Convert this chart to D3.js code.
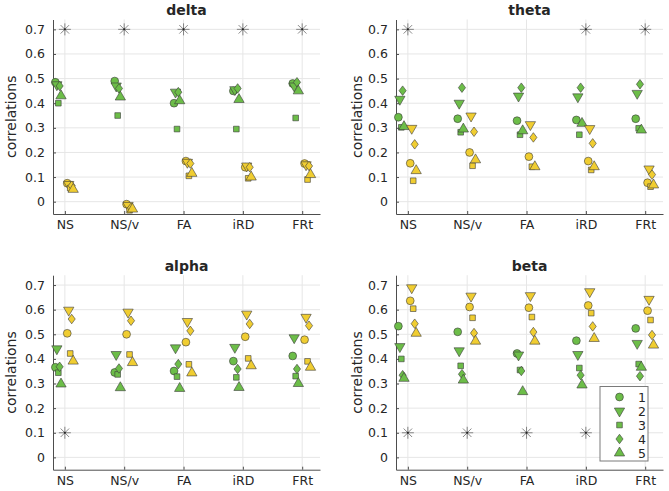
<!DOCTYPE html>
<html>
<head>
<meta charset="utf-8">
<script src="https://d3js.org/d3.v7.min.js"></script>
<style>
  body { margin: 0; background: #fff; }
  svg text { font-family: "DejaVu Sans", sans-serif; fill: #262626; }
</style>
</head>
<body>
<div id="chart"></div>
<script>
// categories and labels
const categories = ["NS", "NS/v", "FA", "iRD", "FRt"];
const legendLabels = ["1", "2", "3", "4", "5"];
const yTicks = [0, 0.1, 0.2, 0.3, 0.4, 0.5, 0.6, 0.7];

// values: one row per category, columns = marker 1..5
const delta_green = [
  [0.485, 0.475, 0.40, 0.47, 0.43],
  [0.49, 0.47, 0.35, 0.46, 0.425],
  [0.40, 0.445, 0.295, 0.445, 0.41],
  [0.45, 0.455, 0.295, 0.46, 0.415],
  [0.48, 0.47, 0.34, 0.485, 0.45]];
const delta_yellow = [
  [0.075, 0.07, 0.055, 0.065, 0.05],
  [-0.01, -0.015, -0.035, -0.025, -0.03],
  [0.165, 0.16, 0.105, 0.155, 0.115],
  [0.14, 0.145, 0.095, 0.14, 0.10],
  [0.155, 0.15, 0.09, 0.145, 0.11]];
const delta_stars = [0.7, 0.7, 0.7, 0.7, 0.7];

const theta_green = [
  [0.343, 0.416, 0.302, 0.451, 0.305],
  [0.337, 0.40, 0.282, 0.463, 0.295],
  [0.329, 0.429, 0.272, 0.463, 0.288],
  [0.332, 0.426, 0.272, 0.463, 0.318],
  [0.337, 0.44, 0.298, 0.477, 0.291]];
const theta_yellow = [
  [0.156, 0.298, 0.085, 0.233, 0.126],
  [0.20, 0.348, 0.146, 0.284, 0.17],
  [0.183, 0.313, 0.142, 0.261, 0.142],
  [0.165, 0.297, 0.129, 0.237, 0.142],
  [0.077, 0.133, 0.061, 0.11, 0.068]];
const theta_stars = [0.7, null, null, 0.7, 0.7];

const alpha_green = [
  [0.366, 0.441, 0.344, 0.368, 0.298],
  [0.345, 0.418, 0.337, 0.361, 0.283],
  [0.351, 0.445, 0.328, 0.379, 0.28],
  [0.391, 0.447, 0.325, 0.359, 0.284],
  [0.412, 0.486, 0.33, 0.359, 0.30]];
const alpha_yellow = [
  [0.504, 0.598, 0.422, 0.562, 0.391],
  [0.50, 0.59, 0.418, 0.555, 0.385],
  [0.468, 0.552, 0.378, 0.514, 0.343],
  [0.49, 0.582, 0.402, 0.542, 0.372],
  [0.478, 0.569, 0.39, 0.535, 0.366]];
const alpha_stars = [0.1, null, null, null, null];

const beta_green = [
  [0.533, 0.45, 0.40, 0.334, 0.321],
  [0.51, 0.433, 0.372, 0.338, 0.314],
  [0.422, 0.416, 0.355, 0.351, 0.267],
  [0.474, 0.418, 0.363, 0.334, 0.294],
  [0.524, 0.463, 0.379, 0.33, 0.366]];
const beta_yellow = [
  [0.636, 0.689, 0.604, 0.543, 0.504],
  [0.611, 0.655, 0.567, 0.505, 0.472],
  [0.608, 0.657, 0.57, 0.509, 0.472],
  [0.617, 0.673, 0.586, 0.532, 0.483],
  [0.596, 0.642, 0.558, 0.497, 0.456]];
const beta_stars = [0.1, 0.1, 0.1, 0.1, null];

// styling / layout
const GREEN = "#6cbd48", YELLOW = "#f0cd31", EDGE = "#3b3b3b";
const greenOffset = [-0.16, -0.135, -0.11, -0.088, -0.065];
const yellowOffset = [0.04, 0.065, 0.09, 0.115, 0.14];
const W = 669, H = 491;

const panels = [
  {title: "delta", green: delta_green, yellow: delta_yellow, stars: delta_stars, left: 53, top: 19.5, labelX: 16},
  {title: "theta", green: theta_green, yellow: theta_yellow, stars: theta_stars, left: 396, top: 19.5, labelX: 362},
  {title: "alpha", green: alpha_green, yellow: alpha_yellow, stars: alpha_stars, left: 53, top: 275.2, labelX: 16},
  {title: "beta", green: beta_green, yellow: beta_yellow, stars: beta_stars, left: 396, top: 275.2, labelX: 362, legend: true}
];
const pw = 267, ph = 194.5;

// wider diamond than d3's default, closer to the matlab one
const wideDiamond = {
  draw: function(ctx, size) {
    const h = Math.sqrt(size / 1.5);
    const w = h * 0.75;
    ctx.moveTo(0, -h); ctx.lineTo(w, 0); ctx.lineTo(0, h); ctx.lineTo(-w, 0); ctx.closePath();
  }
};

// marker shapes: 1 circle, 2 triangle down, 3 square, 4 diamond, 5 triangle up
const shapes = [
  {type: d3.symbolCircle, size: 48, rot: 0},
  {type: d3.symbolTriangle, size: 46, rot: 180},
  {type: d3.symbolSquare, size: 32, rot: 0},
  {type: wideDiamond, size: 34, rot: 0},
  {type: d3.symbolTriangle, size: 46, rot: 0}
];

const svg = d3.select("#chart").append("svg")
  .attr("width", W).attr("height", H);

function starPath(r) {
  const p = d3.path();
  for (let k = 0; k < 4; k++) {
    const a = k * Math.PI / 4;
    p.moveTo(-r * Math.cos(a), -r * Math.sin(a));
    p.lineTo(r * Math.cos(a), r * Math.sin(a));
  }
  return p.toString();
}

panels.forEach(function(P) {
  const x = d3.scaleLinear().domain([0.8, 5.3]).range([P.left, P.left + pw]);
  const y = d3.scaleLinear().domain([-0.05, 0.74]).range([P.top + ph, P.top]);
  const g = svg.append("g");

  // grid
  g.selectAll(".hg").data(yTicks).enter().append("line")
    .attr("x1", P.left).attr("x2", P.left + pw)
    .attr("y1", d => y(d)).attr("y2", d => y(d))
    .attr("stroke", "#e6e6e6").attr("stroke-width", 1);
  g.selectAll(".vg").data(categories).enter().append("line")
    .attr("x1", (d, i) => x(i + 1)).attr("x2", (d, i) => x(i + 1))
    .attr("y1", P.top).attr("y2", P.top + ph)
    .attr("stroke", "#e6e6e6").attr("stroke-width", 1);

  // axes
  const yAxis = d3.axisLeft(y).tickValues(yTicks).tickSizeInner(-3).tickSizeOuter(0)
    .tickPadding(8).tickFormat(d => d === 0 ? "0" : d3.format(".1f")(d));
  const ya = g.append("g").attr("transform", `translate(${P.left},0)`).call(yAxis);
  const xAxis = d3.axisBottom(x).tickValues([1, 2, 3, 4, 5]).tickSizeInner(-3).tickSizeOuter(0)
    .tickPadding(8).tickFormat(d => categories[d - 1]);
  const xa = g.append("g").attr("transform", `translate(0,${P.top + ph})`).call(xAxis);
  [ya, xa].forEach(function(a) {
    a.select(".domain").attr("stroke", "#4d4d4d");
    a.selectAll(".tick line").attr("stroke", "#4d4d4d");
    a.selectAll("text").attr("font-size", 12.5).attr("fill", "#262626")
      .style("font-family", "DejaVu Sans, sans-serif");
  });
  xa.selectAll("text").attr("dy", "0.71em").attr("y", 6);

  // title
  g.append("text").attr("x", P.left + pw / 2).attr("y", P.top - 4.5)
    .attr("text-anchor", "middle").attr("font-size", 14).attr("font-weight", "bold")
    .text(P.title);

  // y label
  g.append("text")
    .attr("transform", `translate(${P.labelX},${P.top + ph / 2}) rotate(-90)`)
    .attr("text-anchor", "middle").attr("font-size", 14)
    .text("correlations");

  // stars
  const starData = P.stars.map((v, i) => ({i: i, v: v})).filter(d => d.v !== null);
  const st = g.selectAll(".star").data(starData).enter().append("g")
    .attr("transform", d => `translate(${x(d.i + 1)},${y(d.v)})`);
  st.append("path").attr("d", starPath(6)).attr("stroke", "#6a6a6a")
    .attr("stroke-width", 0.8).attr("fill", "none");
  st.append("circle").attr("r", 1).attr("fill", "#222");

  // markers
  const pts = [];
  P.green.forEach((row, ci) => row.forEach((v, mi) =>
    pts.push({x: ci + 1 + greenOffset[mi], v: v, m: mi, c: GREEN})));
  P.yellow.forEach((row, ci) => row.forEach((v, mi) =>
    pts.push({x: ci + 1 + yellowOffset[mi], v: v, m: mi, c: YELLOW})));
  g.selectAll(".pt").data(pts).enter().append("path")
    .attr("d", d => d3.symbol().type(shapes[d.m].type).size(shapes[d.m].size)())
    .attr("transform", d => `translate(${x(d.x)},${y(d.v)}) rotate(${shapes[d.m].rot})`)
    .attr("fill", d => d.c).attr("stroke", EDGE).attr("stroke-width", 0.6);

  if (P.legend) {
    const lx = 600, ly = 386.5, lw = 48, lh = 74.5;
    const lg = svg.append("g");
    lg.append("rect").attr("x", lx).attr("y", ly).attr("width", lw).attr("height", lh)
      .attr("fill", "#fff").attr("stroke", "#7a7a7a").attr("stroke-width", 1);
    const item = lg.selectAll(".li").data(legendLabels).enter().append("g")
      .attr("transform", (d, i) => `translate(${lx},${ly + 10.5 + i * 14})`);
    item.append("path")
      .attr("d", (d, i) => d3.symbol().type(shapes[i].type).size(shapes[i].size)())
      .attr("transform", (d, i) => `translate(19.5,0) rotate(${shapes[i].rot})`)
      .attr("fill", GREEN).attr("stroke", EDGE).attr("stroke-width", 0.6);
    item.append("text").attr("x", 42).attr("y", 0).attr("dy", "0.36em")
      .attr("text-anchor", "middle").attr("font-size", 12.5).text(d => d);
  }
});
</script>
</body>
</html>
